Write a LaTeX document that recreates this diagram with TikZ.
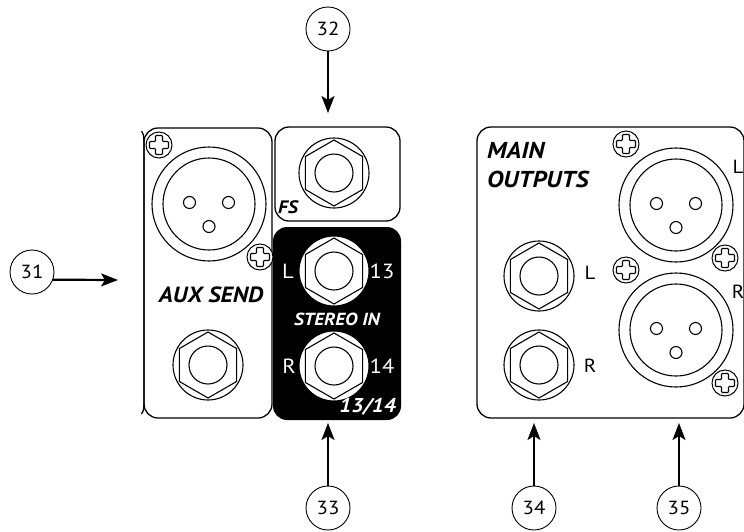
\documentclass[tikz,border=0pt]{standalone}
\usepackage{fontspec}
\setmainfont{PT Sans}[FakeStretch=1.1]
\usetikzlibrary{arrows.meta}
\tikzset{
  panel/.style={draw,line width=1.3pt,rounded corners=14pt},
  callout/.style={circle,draw,line width=0.9pt,minimum size=44pt,inner sep=0pt,font=\fontsize{19}{19}\selectfont},
  pointer/.style={line width=2.2pt,-{Stealth[length=17pt,width=13pt,inset=4pt]}},
  head/.style={font=\fontsize{#1}{#1}\selectfont\bfseries\itshape,inner sep=0pt},
  lbl/.style={font=\fontsize{#1}{#1}\selectfont,inner sep=0pt},
  pics/jack/.style={code={
    \draw[line width=1.1pt,fill=#1] (0,0) circle[radius=35pt];
    \draw[line width=1.1pt] (90:33pt)--(150:33pt)--(210:33pt)--(270:33pt)--(330:33pt)--(30:33pt)--cycle;
    \draw[line width=1.1pt] (0,0) circle[radius=19pt];
  }},
  pics/jack/.default=white,
  pics/xlr/.style={code={
    \draw[line width=1.1pt] (0,0) circle[radius=57pt];
    \draw[line width=1.1pt] (0,0) circle[radius=46pt];
    \draw[line width=1.1pt] (-19.5,-1.5) circle[radius=6pt];
    \draw[line width=1.1pt] (19.5,-1.5) circle[radius=6pt];
    \draw[line width=1.1pt] (0,22.5) circle[radius=6pt];
  }},
  pics/screw/.style={code={
    \draw[line width=1pt,fill=white] (0,0) circle[radius=13pt];
    \draw[line width=1.1pt,rounded corners=0.8pt] (-3.5,-9.5)--(3.5,-9.5)--(3.5,-3.5)--(9.5,-3.5)--(9.5,3.5)--(3.5,3.5)--(3.5,9.5)--(-3.5,9.5)--(-3.5,3.5)--(-9.5,3.5)--(-9.5,-3.5)--(-3.5,-3.5)--cycle;
  }}
}
\begin{document}
\begin{tikzpicture}[x=1pt,y=-1pt]
\useasboundingbox (0,0) rectangle (744,531);
% panels
\draw[panel] (144,128) rectangle (272,418);
\draw[line width=1.3pt] (141.5,131) .. controls (143.5,134) .. (144,142) -- (144,404) .. controls (143.5,411) .. (141.5,414);
\draw[panel] (275,127) rectangle (400,221);
\fill[rounded corners=14pt] (273,227) rectangle (401,420);
\draw[panel] (477,127) rectangle (744,418);
% AUX SEND panel
\pic at (209,204) {xlr};
\pic at (208,365) {jack};
\pic at (159,145) {screw};
\pic at (260,257) {screw};
\node[head=22,anchor=base] (aux) at (211,302) {AUX SEND};
% FS panel
\pic at (334,173) {jack};
\node[head=18,anchor=base west] (fs) at (278,213) {FS};
% stereo in panel
\pic at (334,271) {jack};
\pic at (334,366) {jack};
\node[lbl=20.5,text=white,anchor=base] (sl) at (288,278) {L};
\node[lbl=20.5,text=white,anchor=base] (s13) at (382,278) {13};
\node[lbl=20.5,text=white,anchor=base] (sr) at (289,373) {R};
\node[lbl=20.5,text=white,anchor=base] (s14) at (382,373) {14};
\node[head=17.5,text=white,anchor=base] (stin) at (337,325) {STEREO IN};
\node[head=20,text=white,anchor=base east] (n1314) at (396,412) {13/14};
% main outputs
\node[head=23,anchor=base west] (main) at (487,158) {MAIN};
\node[head=23,anchor=base west] (outs) at (487,187) {OUTPUTS};
\pic at (539,276) {jack};
\pic at (539,365) {jack};
\node[lbl=19,anchor=base] (ml) at (590,279) {L};
\node[lbl=19,anchor=base] (mr) at (590,372) {R};
\pic at (676,205) {xlr};
\pic at (676,330) {xlr};
\pic at (626,144) {screw};
\pic at (725,258) {screw};
\pic at (626,270) {screw};
\pic at (725,383) {screw};
\node[lbl=19,anchor=base] (xl) at (738,173) {L};
\node[lbl=19,anchor=base] (xr) at (738,298) {R};
% callouts
\node[callout] (c31) at (32,272) {31};
\node[callout] (c32) at (328,29) {32};
\node[callout] (c33) at (328,508) {33};
\node[callout] (c34) at (534,508) {34};
\node[callout] (c35) at (679,508) {35};
\coordinate (t31) at (118,280);
\coordinate (t32) at (328,113);
\coordinate (t33) at (328,423);
\coordinate (t34) at (534,423);
\coordinate (t35) at (679,423);
\draw[pointer] (c31.-20) -- (t31);
\draw[pointer] (c32.south) -- (t32);
\draw[pointer] (c33.north) -- (t33);
\draw[pointer] (c34.north) -- (t34);
\draw[pointer] (c35.north) -- (t35);
\end{tikzpicture}
\end{document}
